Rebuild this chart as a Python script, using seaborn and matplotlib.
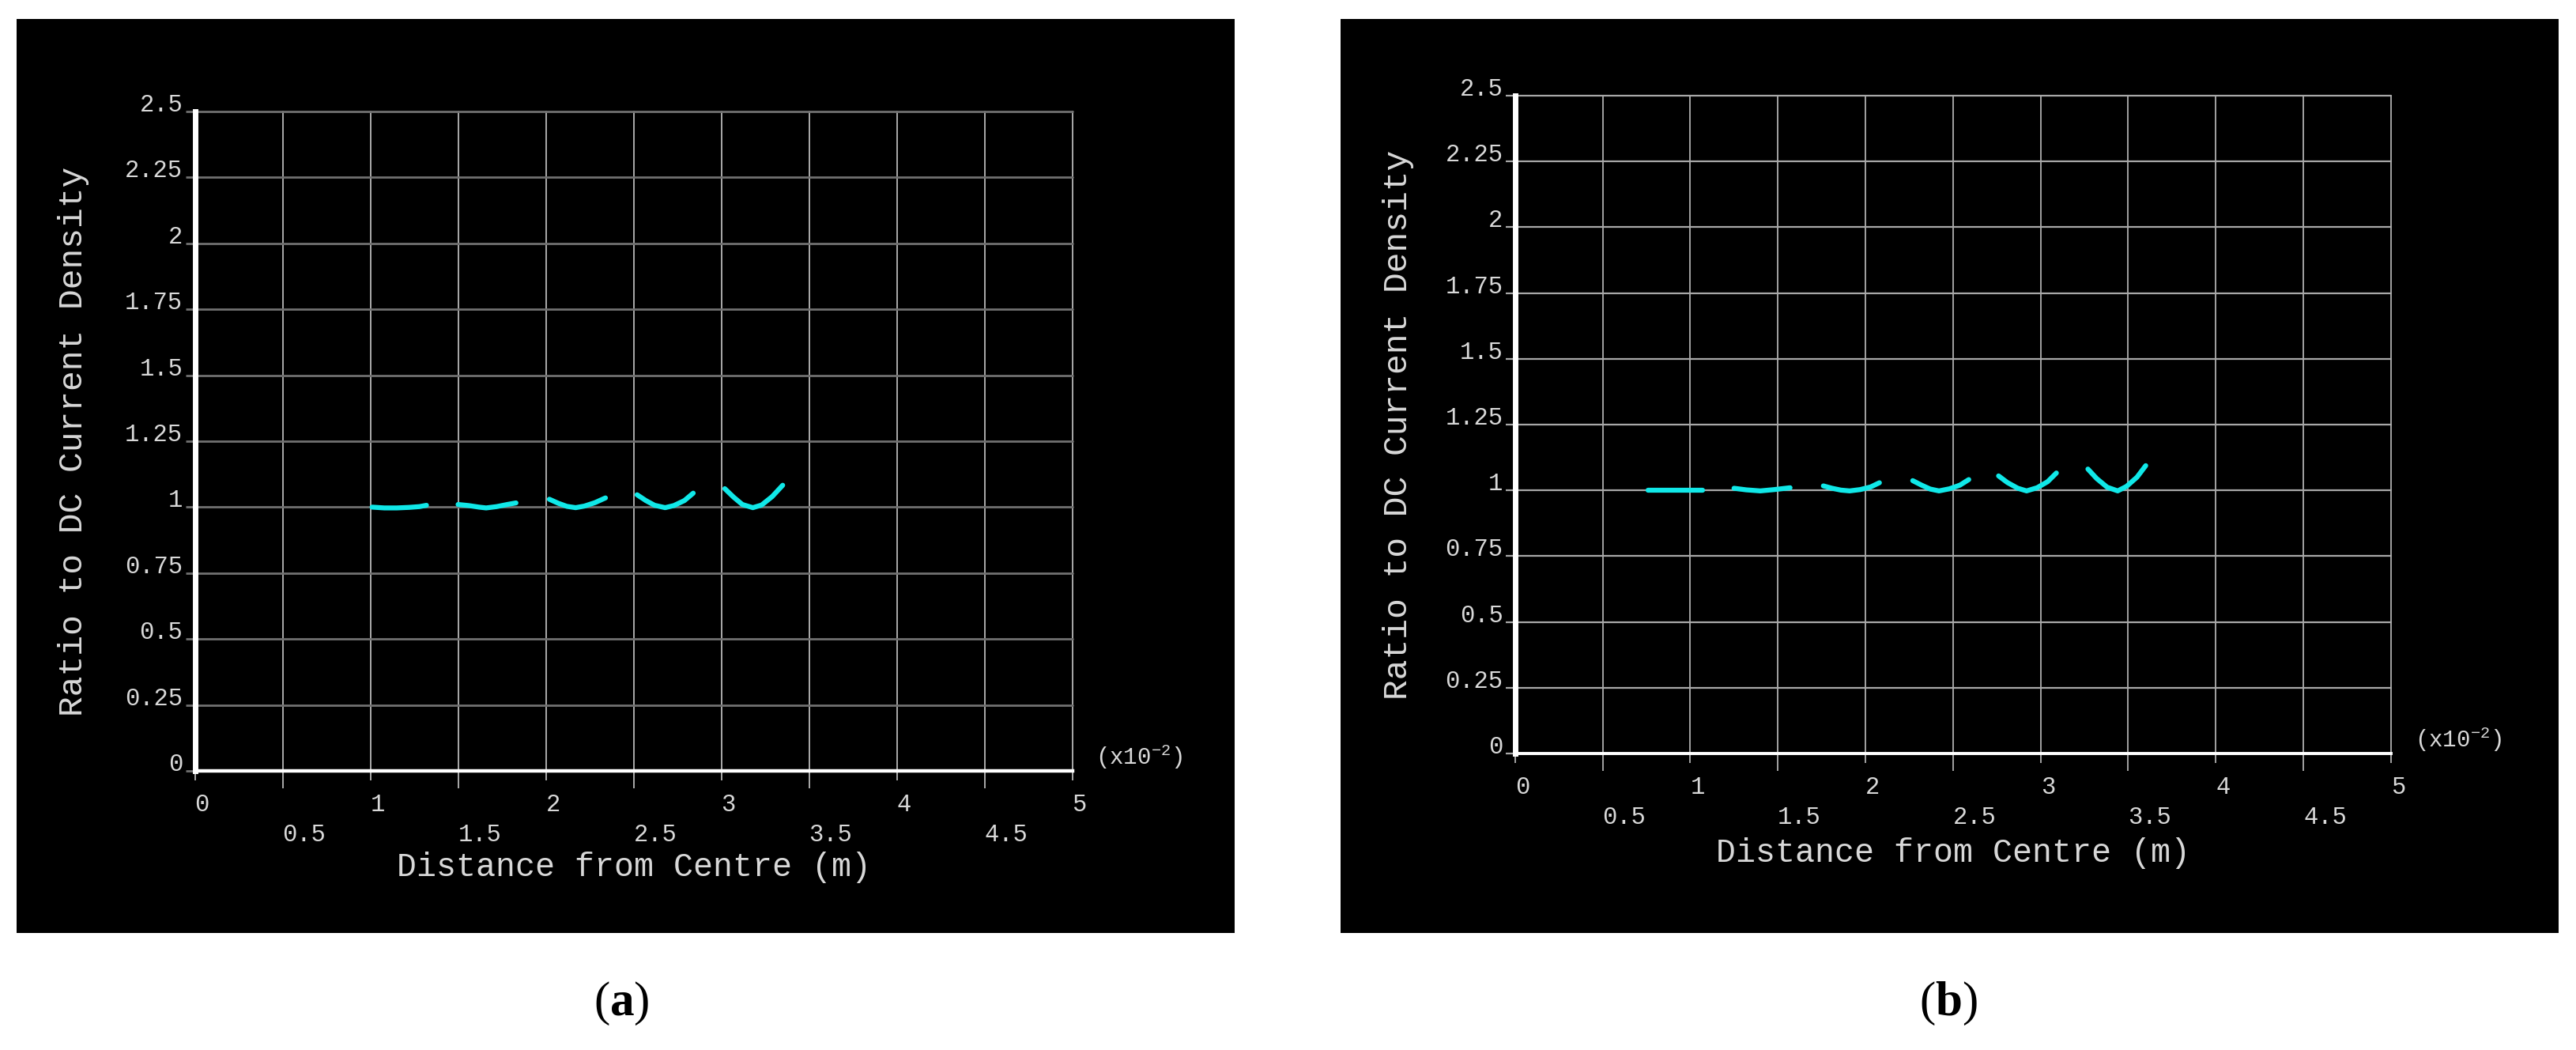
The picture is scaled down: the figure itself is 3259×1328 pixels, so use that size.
import numpy as np
import pandas as pd
import matplotlib
matplotlib.use('Agg')
import matplotlib.pyplot as plt
import seaborn as sns
from matplotlib.patches import Rectangle

# panel (a): five conductor curves, ratio to DC current density vs distance (x10^-2 m)
a_x = [
  [1.01, 1.08, 1.15, 1.22, 1.28, 1.32],
  [1.50, 1.56, 1.62, 1.66, 1.72, 1.78, 1.83],
  [2.02, 2.07, 2.12, 2.17, 2.22, 2.28, 2.34],
  [2.52, 2.57, 2.62, 2.68, 2.73, 2.79, 2.84],
  [3.02, 3.07, 3.12, 3.18, 3.23, 3.29, 3.35],
]
a_y = [
  [1.000, 0.997, 0.997, 0.999, 1.002, 1.007],
  [1.010, 1.006, 1.000, 0.997, 1.002, 1.010, 1.016],
  [1.030, 1.015, 1.003, 0.998, 1.004, 1.017, 1.035],
  [1.047, 1.025, 1.007, 0.998, 1.006, 1.025, 1.053],
  [1.070, 1.038, 1.010, 0.998, 1.008, 1.040, 1.083],
]

# panel (b): six conductor curves
b_x = [
  [0.76, 0.84, 0.92, 1.00, 1.07],
  [1.25, 1.32, 1.40, 1.48, 1.57],
  [1.76, 1.81, 1.86, 1.91, 1.97, 2.03, 2.08],
  [2.27, 2.32, 2.37, 2.42, 2.48, 2.54, 2.59],
  [2.76, 2.81, 2.87, 2.92, 2.98, 3.04, 3.09],
  [3.27, 3.32, 3.38, 3.44, 3.49, 3.55, 3.60],
]
b_y = [
  [1.000, 1.000, 1.000, 1.000, 1.000],
  [1.008, 1.002, 0.998, 1.003, 1.010],
  [1.017, 1.008, 1.001, 0.998, 1.003, 1.013, 1.029],
  [1.037, 1.020, 1.005, 0.998, 1.006, 1.020, 1.041],
  [1.055, 1.030, 1.008, 0.998, 1.010, 1.033, 1.066],
  [1.081, 1.045, 1.012, 0.998, 1.015, 1.050, 1.094],
]

x_major = [0, 1, 2, 3, 4, 5]
x_major_labels = ['0', '1', '2', '3', '4', '5']
x_minor = [0.5, 1.5, 2.5, 3.5, 4.5]
x_minor_labels = ['0.5', '1.5', '2.5', '3.5', '4.5']
y_ticks = [0, 0.25, 0.5, 0.75, 1, 1.25, 1.5, 1.75, 2, 2.25, 2.5]
y_labels = ['0', '0.25', '0.5', '0.75', '1', '1.25', '1.5', '1.75', '2', '2.25', '2.5']

sns.set_theme(style='dark')
plt.rcParams['font.family'] = ['Liberation Mono', 'DejaVu Sans Mono']
plt.rcParams['mathtext.fontset'] = 'custom'
plt.rcParams['mathtext.rm'] = 'Liberation Mono'
plt.rcParams['mathtext.bf'] = 'Liberation Serif:bold'

TXT = '#d8d8d8'
CYAN = '#10e8e8'

fig = plt.figure(figsize=(32.59, 13.28), dpi=100, facecolor='white')

# black screenshot backgrounds
for left in (0.00644, 0.52041):
  fig.add_artist(Rectangle((left, 0.1115), 0.4727, 0.8705, transform=fig.transFigure,
                           facecolor='black', edgecolor='none', zorder=0))

def make_panel(rect, xs, ys, hcol, vcol, hlw, ylab_x, xlab_y, bottom_lw):
  ax = fig.add_axes(rect)
  ax.set_facecolor('black')
  rows = []
  for i, (xx, yy) in enumerate(zip(xs, ys)):
    for x, y in zip(xx, yy):
      rows.append({'x': x, 'y': y, 'seg': i})
  df = pd.DataFrame(rows)
  sns.lineplot(data=df, x='x', y='y', units='seg', estimator=None, sort=False,
               color=CYAN, linewidth=4.5, ax=ax, zorder=5)
  ax.set_xlim(0, 5)
  ax.set_ylim(0, 2.5)
  ax.set_xticks(x_major, x_major_labels, ha='left')
  ax.set_xticks(x_minor, x_minor_labels, minor=True, ha='left')
  ax.set_yticks(y_ticks, y_labels, va='baseline')
  ax.tick_params(axis='x', which='major', direction='out', length=8.6, width=1.3,
                 color=vcol, pad=11.5, labelsize=22, labelcolor=TXT, bottom=True)
  ax.tick_params(axis='x', which='minor', direction='out', length=15.8, width=1.3,
                 color=vcol, pad=31.5, labelsize=22, labelcolor=TXT, bottom=True)
  ax.tick_params(axis='y', which='major', direction='out', length=9, width=hlw,
                 color=hcol, pad=2, labelsize=22, labelcolor=TXT, left=True)
  ax.grid(False)
  for v in x_major + x_minor:
    ax.axvline(v, color=vcol, lw=1.3, zorder=1, clip_on=False)
  for v in y_ticks:
    ax.axhline(v, color=hcol, lw=hlw, zorder=1, clip_on=False)
  for s in ('top', 'right'):
    ax.spines[s].set_visible(False)
  ax.spines['left'].set_color('white')
  ax.spines['left'].set_linewidth(5)
  ax.spines['bottom'].set_color('white')
  ax.spines['bottom'].set_linewidth(bottom_lw)
  ax.spines['left'].set_zorder(3)
  ax.spines['bottom'].set_zorder(3)
  ax.set_xlabel('')
  ax.set_ylabel('')
  ax.text(0.5, xlab_y, 'Distance from Centre (m)', transform=ax.transAxes,
          ha='center', va='top', fontsize=30, color=TXT)
  ax.text(ylab_x, 0.5, 'Ratio to DC Current Density', transform=ax.transAxes,
          rotation=90, ha='right', va='center', fontsize=31, color=TXT)
  ax.text(1.027, 0.010, r'(x10$^{\mathrm{-2}}$)', transform=ax.transAxes,
          ha='left', va='baseline', fontsize=21, color=TXT)
  return ax

make_panel([0.07564, 0.26581, 0.3406, 0.62801], a_x, a_y, '#707070', '#b8b8b8', 2.0,
           -0.1207, -0.1223, 3.2)
make_panel([0.58812, 0.28238, 0.34007, 0.62651], b_x, b_y, '#a8a8a8', '#b0b0b0', 1.6,
           -0.115, -0.1274, 2.8)

fig.text(786 / 3259, 1 - 1269 / 1328, r'($\mathbf{a}$)', ha='center', va='center',
         fontsize=44, family=['Liberation Serif'], color='black')
fig.text(2465 / 3259, 1 - 1269 / 1328, r'($\mathbf{b}$)', ha='center', va='center',
         fontsize=44, family=['Liberation Serif'], color='black')

fig.savefig('out.png', dpi=100, facecolor='white')
